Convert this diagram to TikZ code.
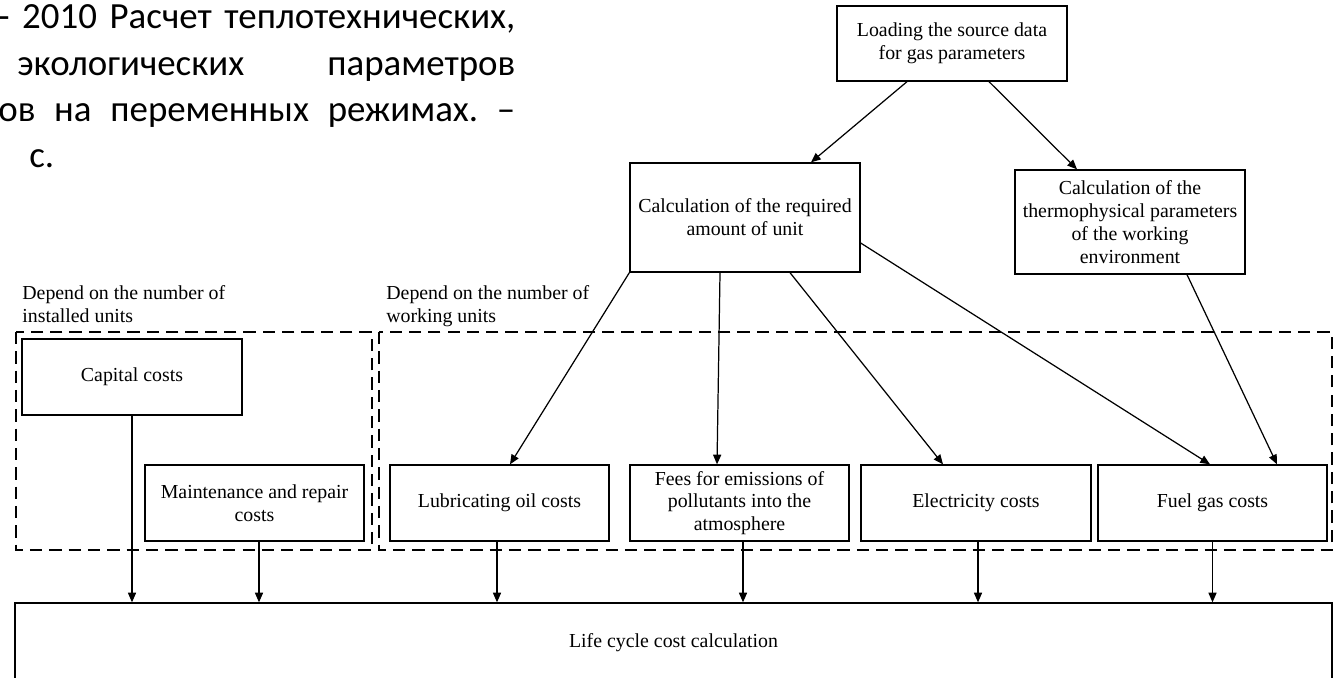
\documentclass[tikz,border=0pt]{standalone}
\usepackage{fontspec}
\setmainfont{Liberation Serif}
\newfontfamily\bodyfont{Carlito}
\usetikzlibrary{arrows.meta}

\begin{document}
\begin{tikzpicture}[
      x=0.02cm, y=-0.02cm,
      font=\fontsize{11.3}{13}\selectfont,
      box/.style={draw=black, line width=.75pt, align=center, inner sep=2pt,
                  minimum width=4.38cm, minimum height=1.52cm},
      wide/.style={box, minimum width=4.6cm},
      grp/.style={draw=black, dash pattern=on 7pt off 4pt, line width=.8pt},
      flow/.style={draw=black, -{Triangle[length=5.5pt,width=4.6pt]}, line width=.7pt},
      note/.style={anchor=north west, inner sep=0pt, align=left},
      body/.style={anchor=base west, inner sep=0pt,
                   font=\bodyfont\fontsize{21}{25}\selectfont\frenchspacing}
    ]
    \useasboundingbox (0,0) rectangle (1334,678);
    \clip (0,0) rectangle (1334,678);

    % Page text cut off at the left.
    \node[body] (rus1) at (-2,29) {\makebox[10.34cm][s]{- 2010 Расчет теплотехнических,}};
    \node[body] (rus2) at (17,76) {\makebox[9.96cm][s]{экологических параметров}};
    \node[body] (rus3) at (-2,122) {\makebox[10.34cm][s]{ов на переменных режимах. –}};
    \node[body] (rus4) at (29,168) {с.};

    % Input data and unit calculations.
    \node[wide, minimum height=1.5cm] (load) at (952,43.5) {Loading the source data\\for gas parameters};
    \node[wide, minimum height=2.18cm] (reqamount) at (745,217.5) {Calculation of the required\\amount of unit};
    \node[wide, minimum height=2.08cm] (thermo) at (1130,222)
      {Calculation of the\\thermophysical parameters\\of the working\\environment};
    \draw[flow] ([xshift=-0.9cm]load.south) -- ([xshift=1.32cm]reqamount.north);
    \draw[flow] ([xshift=0.74cm]load.south) -- ([xshift=-1.06cm]thermo.north);

    % Groups of cost items.
    \draw[grp] (16,332) rectangle (372,550);
    \draw[grp] (379,332) rectangle (1332,550);
    \node[note] (instlabel) at (22,285) {Depend on the number of\\installed units};
    \node[note] (worklabel) at (386,285) {Depend on the number of\\working units};

    \node[box, minimum width=4.4cm] (capital) at (132,377) {Capital costs};
    \node[box] (maint) at (254.5,503) {Maintenance and repair\\costs};
    \node[box] (lube) at (499.5,503) {Lubricating oil costs};
    \node[box] (fees) at (739.5,503) {Fees for emissions of\\pollutants into the\\atmosphere};
    \node[wide] (elec) at (976,503) {Electricity costs};
    \node[box, minimum width=4.58cm] (fuel) at (1212.5,503) {Fuel gas costs};

    \draw[flow] (reqamount.south west) -- ([xshift=0.21cm]lube.north);
    \draw[flow] ([xshift=-0.5cm]reqamount.south) -- ([xshift=-0.45cm]fees.north);
    \draw[flow] ([xshift=0.9cm]reqamount.south) -- ([xshift=-0.66cm]elec.north);
    \draw[flow] ([yshift=-0.51cm]reqamount.east) -- ([xshift=-0.05cm]fuel.north);
    \draw[flow] ([xshift=1.14cm]thermo.south) -- ([xshift=1.29cm]fuel.north);

    % Total.
    \node[box, minimum width=26.34cm, minimum height=1.6cm] (lcc) at (673.5,643) {Life cycle cost calculation};
    \draw[flow] (capital.south) -- (capital.south |- lcc.north);
    \foreach \n/\dx in {maint/0.09, lube/-0.05, fees/0.07, elec/0.04, fuel/0}
      \draw[flow] ([xshift=\dx cm]\n.south) -- ([xshift=\dx cm]\n.south |- lcc.north);
  \end{tikzpicture}
\end{document}
